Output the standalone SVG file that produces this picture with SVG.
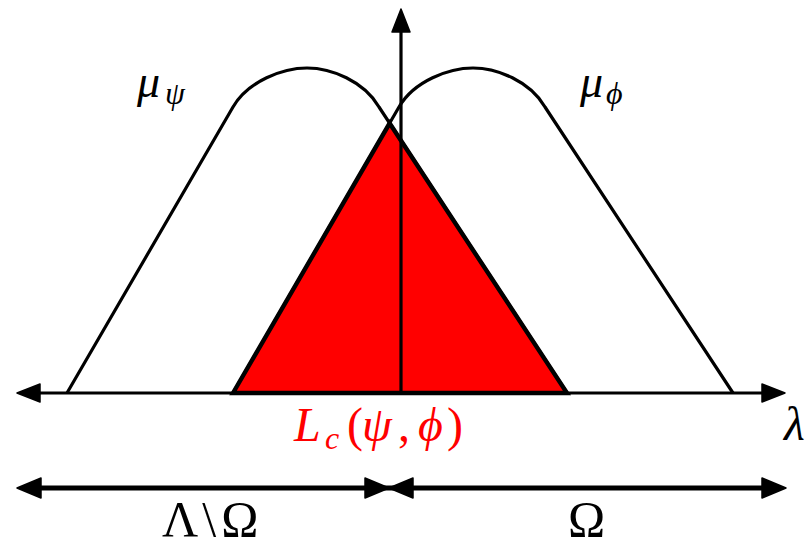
<svg xmlns="http://www.w3.org/2000/svg" width="806" height="546" viewBox="0 0 806 546">
<style>
.curve{fill:none;stroke:#000;stroke-width:3.2;stroke-linejoin:round}
.ax{fill:none;stroke:#000;stroke-width:3.2}
.ax2{fill:none;stroke:#000;stroke-width:4.8}
.ah{fill:#000;stroke:#000;stroke-width:1.5;stroke-linejoin:round}
.m{font-family:"Liberation Serif","DejaVu Serif",serif;font-style:italic}
.u{font-family:"Liberation Serif","DejaVu Serif",serif}
</style>
<defs>
<path id="ah" class="ah" d="M0,0 L-23,-9 L-23,9 Z"/>
<path id="ahb" class="ah" d="M0,0 L-24,-10 L-24,10 Z"/>
</defs>
<rect width="806" height="546" fill="#fff"/>
<g id="curve-psi">
<path class="curve" d="M67,393 L233,107 C248,81 283,68 307,68 C331,68 364,81 379,107 L567,393"/>
</g>
<g id="curve-phi">
<path class="curve" d="M233,393 L399,107 C414,81 449,68 473,68 C497,68 530,81 545,107 L733,393"/>
</g>
<g id="region-Lc">
<path d="M233,393 L389.6,123.3 L567,393 Z" fill="#ff0000" stroke="#000" stroke-width="4.4" stroke-linejoin="miter"/>
</g>
<g id="connectors">
<line class="ax" x1="401" y1="394" x2="401" y2="28"/>
<use href="#ah" transform="translate(401,9) rotate(-90)"/>
<line class="ax" x1="34" y1="393" x2="768" y2="393"/>
<use href="#ah" transform="translate(17,393) rotate(180)"/>
<use href="#ah" transform="translate(785,393)"/>
<line class="ax2" x1="34" y1="488" x2="770" y2="488"/>
<use href="#ahb" transform="translate(17,488) rotate(180)"/>
<use href="#ahb" transform="translate(389,488)"/>
<use href="#ahb" transform="translate(389,488) rotate(180)"/>
<use href="#ahb" transform="translate(786,488)"/>
</g>
<g id="labels">
<text class="m" x="137" y="97" font-size="46">μ</text>
<text class="m" x="165" y="104" font-size="32">ψ</text>
<text class="m" x="580" y="97" font-size="46">μ</text>
<text class="m" x="606" y="104" font-size="32">ϕ</text>
<g fill="#ff0000">
<text class="m" x="294" y="441" font-size="48">L</text>
<text class="m" x="325" y="449" font-size="32">c</text>
<text class="u" x="347" y="441" font-size="48">(</text>
<text class="m" x="362" y="441" font-size="48">ψ</text>
<text class="u" x="398" y="441" font-size="48">,</text>
<text class="m" x="418" y="441" font-size="48">ϕ</text>
<text class="u" x="447" y="441" font-size="48">)</text>
</g>
<text class="m" x="784" y="440" font-size="48">λ</text>
<text class="u" x="162" y="536" font-size="50">Λ<tspan dx="4">\</tspan><tspan dx="5">Ω</tspan></text>
<text class="u" x="568" y="536" font-size="50">Ω</text>
</g>
</svg>
